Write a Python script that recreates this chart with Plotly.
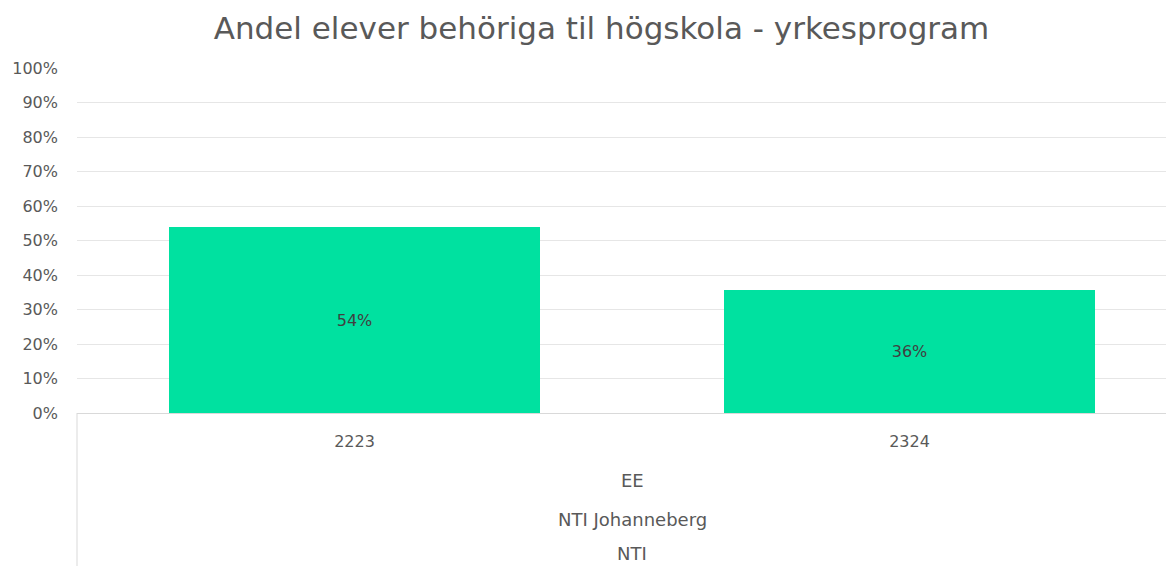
import plotly.graph_objects as go

categories = ["2223", "2324"]
values = [0.54, 0.356]
group_labels = ["EE", "NTI Johanneberg", "NTI"]
title_text = "Andel elever behöriga til högskola - yrkesprogram"

FONT = "'DejaVu Sans', sans-serif"
GRAY = "#595959"

W, H = 1166, 558
L, T = 69, 60
B = H - 405

fig = go.Figure()
fig.add_trace(go.Bar(
    x=[0, 1],
    y=values,
    width=0.667,
    marker=dict(color="#00E1A0", line=dict(width=0)),
    text=[f"{round(v*100):d}%" for v in values],
    textposition="inside",
    insidetextanchor="middle",
    textfont=dict(family=FONT, size=16, color="#404040"),
    hoverinfo="skip",
))

fig.update_layout(
    width=W, height=H,
    margin=dict(l=L, r=0, t=T, b=B),
    paper_bgcolor="white", plot_bgcolor="white",
    showlegend=False,
    title=dict(text=title_text, x=0.509, xanchor="center", y=1 - 20 / H, yanchor="middle",
               font=dict(family=FONT, size=31, color=GRAY)),
    font=dict(family=FONT, color=GRAY),
    bargap=0,
)
fig.update_xaxes(
    range=[-0.5, -0.5 + (W - L) / 555],
    tickmode="array", tickvals=[0, 1], ticktext=categories,
    tickfont=dict(family=FONT, size=16, color=GRAY),
    showgrid=False, zeroline=False,
    showline=True, linecolor="#d9d9d9", linewidth=1,
    ticks="", ticklabelstandoff=14,
)
fig.update_yaxes(
    range=[0, 1], dtick=0.1, tickformat=".0%",
    tickfont=dict(family=FONT, size=16, color=GRAY),
    showgrid=True, gridcolor="#e6e6e6", gridwidth=1,
    zeroline=False, showline=False, ticks="", ticklabelstandoff=18,
)

plot_h = H - T - B
ys_screen = [480, 519, 553]
for lab, ysc in zip(group_labels, ys_screen):
    yy = -((ysc - 8) - (T + plot_h)) / plot_h
    fig.add_annotation(x=0.5, xref="x", y=yy, yref="paper", text=lab, showarrow=False,
                       font=dict(family=FONT, size=18, color=GRAY), yanchor="middle")

fig.add_shape(type="line", xref="paper", yref="paper", x0=0, x1=0, y0=0, y1=-B / plot_h,
              line=dict(color="#d9d9d9", width=1))

fig.write_html("out.html")
